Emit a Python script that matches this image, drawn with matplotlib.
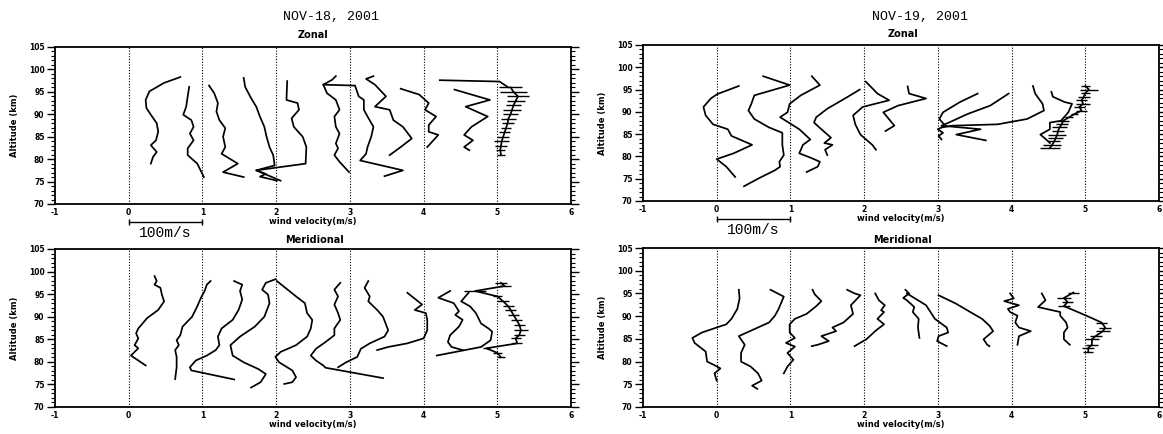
import numpy as np
import matplotlib.pyplot as plt
from matplotlib.ticker import MultipleLocator
import matplotlib.transforms as mtransforms

plt.rcParams['font.family'] = ['DejaVu Sans']
plt.rcParams['font.weight'] = 'bold'

# ---------------- NOV-18 zonal ----------------
z18_alt = [
    [98.3, 97.0, 95.1, 93.2, 91.4, 89.9, 88.0, 86.1, 84.2, 83.1, 81.6, 80.5, 79.0],
    [96.1, 94.0, 91.7, 89.9, 88.7, 87.2, 85.7, 84.2, 82.4, 80.9, 79.0, 76.0],
    [96.4, 94.7, 92.5, 90.6, 88.7, 86.9, 85.0, 82.7, 81.2, 79.0, 77.1, 76.0],
    [98.1, 96.1, 93.6, 91.7, 89.5, 87.2, 85.0, 82.7, 80.9, 78.6, 77.5, 76.7, 76.1, 75.2],
    [97.4, 93.2, 92.5, 91.0, 89.1, 87.2, 85.0, 82.7, 79.0, 77.5, 75.2],
    [98.5, 97.7, 96.6, 94.7, 93.2, 91.0, 89.5, 87.2, 85.7, 83.5, 82.4, 80.9, 79.4, 77.1],
    [96.6, 96.4, 94.0, 93.2, 91.0, 89.5, 87.2, 85.0, 82.7, 81.2, 79.7, 77.5, 76.2],
    [98.5, 97.9, 96.6, 94.0, 91.7, 91.0, 88.7, 87.2, 84.6, 82.7, 80.9],
    [95.7, 94.4, 92.5, 91.0, 89.5, 87.6, 86.1, 85.4, 82.7],
    [95.5, 93.2, 91.7, 89.5, 87.2, 85.4, 84.2, 82.7, 82.0],
    [97.6, 97.3, 96.0],
]
z18_x = [
    [0.70, 0.48, 0.28, 0.23, 0.24, 0.30, 0.38, 0.40, 0.37, 0.30, 0.38, 0.33, 0.30],
    [0.82, 0.80, 0.78, 0.74, 0.85, 0.88, 0.83, 0.88, 0.80, 0.80, 0.93, 1.02],
    [1.09, 1.16, 1.21, 1.19, 1.23, 1.31, 1.28, 1.31, 1.26, 1.48, 1.28, 1.56],
    [1.56, 1.58, 1.66, 1.73, 1.78, 1.84, 1.87, 1.91, 1.96, 1.98, 1.73, 1.86, 1.78, 2.01],
    [2.15, 2.14, 2.29, 2.31, 2.21, 2.24, 2.36, 2.41, 2.40, 1.73, 2.06],
    [2.81, 2.76, 2.64, 2.69, 2.81, 2.86, 2.79, 2.81, 2.86, 2.81, 2.84, 2.79, 2.86, 2.99],
    [2.64, 3.07, 3.12, 3.19, 3.19, 3.24, 3.32, 3.29, 3.24, 3.22, 3.14, 3.72, 3.47],
    [3.32, 3.22, 3.34, 3.49, 3.34, 3.54, 3.59, 3.72, 3.84, 3.69, 3.54],
    [3.69, 3.94, 4.07, 4.02, 4.17, 4.07, 4.07, 4.20, 4.05],
    [4.42, 4.90, 4.57, 4.87, 4.65, 4.55, 4.67, 4.55, 4.62],
    [4.22, 5.03, 5.15],
]
z18_mean_alt = [96.0, 95.0, 94.0, 93.0, 92.0, 91.0, 90.0, 89.0, 88.0, 87.0, 86.0, 85.0, 84.0, 83.0, 82.0, 81.0]
z18_mean_x = [5.18, 5.22, 5.28, 5.25, 5.22, 5.20, 5.18, 5.15, 5.14, 5.12, 5.10, 5.08, 5.06, 5.05, 5.04, 5.05]
z18_mean_err = [0.15, 0.18, 0.15, 0.12, 0.10, 0.12, 0.10, 0.10, 0.08, 0.07, 0.07, 0.08, 0.10, 0.08, 0.06, 0.06]

# ---------------- NOV-19 zonal ----------------
z19_alt = [
    [95.8, 94.0, 93.0, 91.1, 89.2, 87.2, 86.1, 84.6, 82.6, 80.7, 79.4, 77.7, 75.4],
    [98.0, 96.0, 94.9, 93.7, 91.8, 90.3, 88.4, 86.5, 85.3, 82.6, 80.3, 78.8, 77.7, 76.9, 75.0, 73.3],
    [98.0, 96.0, 93.7, 91.8, 89.9, 88.8, 86.1, 83.8, 82.6, 80.7, 79.6, 78.8, 77.7, 76.5],
    [95.0, 93.4, 90.7, 88.8, 87.6, 86.1, 84.2, 83.0, 82.6, 81.5, 80.3],
    [96.8, 95.3, 94.1, 92.6, 91.1, 89.2, 87.2, 84.9, 82.6, 81.5],
    [95.7, 94.1, 93.0, 91.4, 89.9, 86.9, 85.7],
    [94.1, 92.2, 89.9, 88.4, 86.9, 86.1, 85.3, 84.6, 83.8],
    [94.1, 91.4, 89.5, 87.6, 86.9, 86.1, 84.9, 83.6],
    [95.8, 94.1, 91.8, 90.3, 88.4, 87.2, 86.9, 86.5],
    [94.5, 93.4, 92.2, 91.8, 89.9, 88.0, 87.6, 86.1, 84.9, 83.8, 83.0],
]
z19_x = [
    [0.30, 0.01, -0.08, -0.18, -0.15, -0.05, 0.15, 0.20, 0.48, 0.23, 0.00, 0.13, 0.25],
    [0.63, 0.99, 0.76, 0.51, 0.47, 0.43, 0.51, 0.71, 0.89, 0.89, 0.91, 0.85, 0.86, 0.79, 0.56, 0.37],
    [1.29, 1.40, 1.14, 0.99, 0.96, 0.86, 1.12, 1.27, 1.17, 1.12, 1.29, 1.40, 1.37, 1.22],
    [1.94, 1.78, 1.50, 1.35, 1.32, 1.42, 1.55, 1.46, 1.57, 1.47, 1.50],
    [2.02, 2.11, 2.18, 2.34, 1.98, 1.85, 1.88, 1.95, 2.11, 2.16],
    [2.59, 2.61, 2.84, 2.46, 2.26, 2.41, 2.29],
    [3.54, 3.30, 3.07, 3.02, 3.10, 3.00, 3.07, 3.01, 3.05],
    [3.96, 3.71, 3.40, 3.15, 3.05, 3.58, 3.25, 3.65],
    [4.29, 4.32, 4.42, 4.44, 4.21, 3.81, 3.20, 3.05],
    [4.54, 4.56, 4.72, 4.82, 4.77, 4.67, 4.52, 4.52, 4.39, 4.47, 4.52],
]
z19_mean_alt = [95.8, 95.0, 94.2, 93.4, 92.6, 91.8, 91.1, 90.3, 89.5, 88.8, 88.0, 87.2, 86.5, 85.7, 84.9, 84.2, 83.4, 82.6, 81.9]
z19_mean_x = [5.00, 5.05, 5.00, 4.98, 4.95, 4.97, 4.92, 4.95, 4.85, 4.78, 4.70, 4.68, 4.65, 4.63, 4.62, 4.60, 4.58, 4.55, 4.52]
z19_mean_err = [0.06, 0.12, 0.06, 0.08, 0.07, 0.1, 0.07, 0.08, 0.05, 0.06, 0.08, 0.08, 0.1, 0.08, 0.12, 0.1, 0.08, 0.12, 0.14]

# ---------------- NOV-18 meridional ----------------
m18_alt = [
    [99.0, 97.9, 97.1, 96.4, 94.9, 93.4, 91.5, 89.7, 87.4, 86.3, 85.2, 83.7, 83.0, 81.4, 79.2],
    [97.9, 97.1, 95.7, 94.2, 92.3, 90.0, 87.8, 85.9, 84.8, 83.7, 82.6, 81.1, 78.8, 76.2],
    [97.9, 97.1, 95.7, 93.8, 91.5, 89.3, 87.4, 85.6, 83.7, 82.6, 81.4, 80.3, 78.8, 78.1, 76.1],
    [98.3, 97.5, 96.0, 94.9, 93.0, 90.0, 87.8, 85.6, 83.7, 81.4, 79.9, 78.4, 77.3, 75.5, 74.3],
    [97.9, 94.5, 93.0, 90.8, 89.3, 87.4, 85.6, 83.7, 82.2, 81.1, 79.9, 78.1, 76.6, 75.5, 75.1],
    [97.5, 96.0, 94.5, 92.7, 90.8, 89.3, 87.4, 85.9, 84.4, 82.9, 81.4, 80.3, 79.2, 78.7, 76.4],
    [97.9, 96.4, 94.5, 93.4, 91.5, 90.0, 87.0, 85.6, 84.1, 82.9, 81.1, 79.9, 78.8],
    [95.3, 92.7, 91.5, 90.8, 89.3, 87.0, 85.2, 84.1, 83.3, 82.6],
    [95.7, 94.2, 93.0, 91.2, 90.4, 89.3, 87.8, 85.9, 84.4, 83.3, 82.6],
    [95.3, 93.4, 92.3, 90.8, 88.5, 87.4, 86.7, 84.8, 83.3, 81.4],
]
m18_x = [
    [0.35, 0.38, 0.35, 0.43, 0.45, 0.48, 0.40, 0.25, 0.13, 0.10, 0.13, 0.08, 0.13, 0.03, 0.23],
    [1.11, 1.06, 1.03, 0.98, 0.93, 0.86, 0.73, 0.70, 0.65, 0.68, 0.63, 0.65, 0.65, 0.63],
    [1.43, 1.54, 1.51, 1.54, 1.49, 1.41, 1.26, 1.21, 1.23, 1.18, 1.06, 0.91, 0.83, 0.85, 1.43],
    [1.99, 1.86, 1.81, 1.89, 1.91, 1.84, 1.71, 1.51, 1.38, 1.41, 1.56, 1.76, 1.86, 1.79, 1.66],
    [2.01, 2.27, 2.39, 2.42, 2.49, 2.47, 2.42, 2.27, 2.06, 1.99, 2.04, 2.22, 2.27, 2.22, 2.11],
    [2.87, 2.79, 2.84, 2.79, 2.84, 2.87, 2.79, 2.79, 2.67, 2.54, 2.47, 2.54, 2.64, 2.67, 3.45],
    [3.25, 3.20, 3.27, 3.25, 3.37, 3.45, 3.52, 3.47, 3.27, 3.15, 3.10, 2.95, 2.84],
    [3.78, 3.98, 3.88, 4.03, 4.05, 4.05, 4.00, 3.78, 3.52, 3.37],
    [4.36, 4.20, 4.41, 4.48, 4.43, 4.53, 4.48, 4.36, 4.33, 4.38, 4.53],
    [4.61, 4.51, 4.63, 4.71, 4.78, 4.88, 4.93, 4.91, 4.78, 4.18],
]
m18_mean_alt = [97.5, 96.8, 95.7, 94.5, 93.4, 92.3, 91.5, 90.4, 89.3, 88.2, 87.0, 86.0, 85.2, 84.1, 83.0, 82.0, 81.0]
m18_mean_x = [5.05, 5.10, 4.70, 5.00, 5.08, 5.15, 5.18, 5.22, 5.26, 5.30, 5.32, 5.30, 5.25, 5.27, 4.85, 5.00, 5.05]
m18_mean_err = [0.08, 0.08, 0.15, 0.06, 0.08, 0.07, 0.07, 0.07, 0.08, 0.08, 0.09, 0.07, 0.07, 0.07, 0.05, 0.06, 0.06]

# ---------------- NOV-19 meridional ----------------
m19_alt = [
    [95.8, 93.9, 91.6, 89.4, 88.2, 87.5, 86.4, 85.2, 84.1, 82.2, 80.0, 79.2, 78.5, 77.4, 75.8],
    [95.8, 94.3, 91.6, 90.1, 88.6, 85.6, 83.7, 81.9, 80.0, 78.9, 77.4, 75.8, 74.7, 74.0],
    [95.8, 94.8, 93.3, 92.2, 90.5, 89.4, 88.2, 86.4, 85.2, 84.1, 83.3, 81.9, 80.4, 78.9, 77.4],
    [95.8, 95.0, 94.6, 92.4, 90.5, 88.6, 87.5, 86.7, 85.6, 84.5, 83.7, 83.4],
    [95.0, 93.5, 92.4, 91.3, 90.9, 89.4, 88.2, 87.1, 86.7, 84.9, 83.4],
    [95.8, 95.0, 94.0, 93.5, 92.0, 90.9, 89.4, 87.5, 85.2],
    [95.0, 92.4, 89.4, 87.5, 86.4, 85.6, 84.5, 83.4],
    [94.6, 92.8, 90.9, 89.4, 87.9, 86.7, 84.9, 83.7, 83.4],
    [95.0, 93.9, 93.3, 92.4, 91.6, 90.9, 90.1, 88.6, 87.5, 86.7, 85.6, 83.7],
    [95.0, 93.5, 92.0, 90.9, 90.1, 88.6, 87.5, 86.4, 84.9, 83.7],
]
m19_x = [
    [0.30, 0.31, 0.28, 0.20, 0.13, 0.00, -0.20, -0.33, -0.30, -0.15, -0.13, -0.03, 0.05, -0.03, 0.00],
    [0.73, 0.91, 0.84, 0.79, 0.71, 0.30, 0.38, 0.33, 0.33, 0.46, 0.56, 0.61, 0.48, 0.55],
    [1.30, 1.33, 1.42, 1.35, 1.22, 1.06, 0.99, 0.99, 1.06, 0.94, 1.06, 0.96, 1.04, 0.96, 0.91],
    [1.77, 1.87, 1.95, 1.82, 1.85, 1.72, 1.57, 1.62, 1.42, 1.52, 1.37, 1.29],
    [2.15, 2.20, 2.28, 2.23, 2.27, 2.18, 2.27, 2.18, 2.15, 2.03, 1.87],
    [2.56, 2.61, 2.53, 2.58, 2.68, 2.66, 2.74, 2.73, 2.75],
    [2.58, 2.84, 2.96, 3.12, 3.14, 3.01, 2.99, 3.12],
    [3.01, 3.24, 3.44, 3.60, 3.70, 3.75, 3.62, 3.67, 3.70],
    [3.98, 4.03, 3.90, 4.10, 3.95, 3.98, 4.08, 4.05, 4.10, 4.26, 4.10, 4.08],
    [4.41, 4.46, 4.36, 4.66, 4.66, 4.74, 4.76, 4.71, 4.71, 4.79],
]
m19_mean_alt = [95.2, 94.0, 93.1, 92.2, 90.9, 89.7, 88.6, 87.5, 86.7, 85.6, 84.9, 83.7, 83.0, 82.2]
m19_mean_x = [4.84, 4.71, 4.76, 4.71, 4.90, 5.07, 5.22, 5.27, 5.24, 5.14, 5.09, 5.09, 5.04, 5.04]
m19_mean_err = [0.07, 0.1, 0.08, 0.08, 0.0, 0.0, 0.08, 0.08, 0.1, 0.08, 0.1, 0.08, 0.08, 0.07]

grid_x = [0, 1, 2, 3, 4, 5]
xticks = [-1, 0, 1, 2, 3, 4, 5, 6]

W, H = 1163, 434
fig = plt.figure(figsize=(W / 100, H / 100), dpi=100)


def px_axes(left, top, right, bottom):
    return fig.add_axes([left / W, 1 - bottom / H, (right - left) / W, (bottom - top) / H])


def draw_panel(ax, alts, xs, m_alt, m_x, m_err, show_xlabel=True):
    for g in grid_x:
        ax.axvline(g, color='k', ls=(0, (1, 1.5)), lw=0.8)
    for a, x in zip(alts, xs):
        ax.plot(x, a, color='k', lw=1.25)
    ax.errorbar(m_x, m_alt, xerr=m_err, color='k', lw=1.25, elinewidth=1.0, capsize=0)
    ax.set_xlim(-1, 6)
    ax.set_ylim(70, 105)
    ax.set_xticks(xticks)
    ax.set_xticklabels([str(t) for t in xticks])
    ax.yaxis.set_major_locator(MultipleLocator(5))
    ax.yaxis.set_minor_locator(MultipleLocator(1))
    ax.tick_params(axis='x', length=0, labelsize=5.5, pad=3)
    ax.tick_params(axis='y', which='major', length=6, width=1.0, direction='out',
                   right=True, labelsize=5.5, pad=1.5)
    ax.tick_params(axis='y', which='minor', length=3, width=0.8, direction='out', right=True)
    for s in ax.spines.values():
        s.set_linewidth(1.3)
    ax.set_ylabel('Altitude (km)', fontsize=6, fontweight='bold')
    ax.yaxis.set_label_coords(-0.07, 0.5)
    if show_xlabel:
        ax.set_xlabel('wind velocity(m/s)', fontsize=6, fontweight='bold', labelpad=0)


def scale_bar(ax, y_bar, y_txt):
    trans = mtransforms.blended_transform_factory(ax.transData, ax.transAxes)
    ax.plot([0, 1], [y_bar, y_bar], color='k', lw=1.0, transform=trans, clip_on=False,
            marker='|', ms=4, mew=1.0)
    ax.text(0.5, y_txt, '100m/s', transform=trans, ha='center', va='center',
            fontsize=10.5, family='Liberation Mono', fontweight='normal')


ax1 = px_axes(55, 47, 571, 204)
draw_panel(ax1, z18_alt, z18_x, z18_mean_alt, z18_mean_x, z18_mean_err)
scale_bar(ax1, -0.115, -0.185)

ax2 = px_axes(643, 45, 1159, 201)
draw_panel(ax2, z19_alt, z19_x, z19_mean_alt, z19_mean_x, z19_mean_err)
scale_bar(ax2, -0.115, -0.185)

ax3 = px_axes(55, 249, 571, 407)
draw_panel(ax3, m18_alt, m18_x, m18_mean_alt, m18_mean_x, m18_mean_err)

ax4 = px_axes(643, 248, 1159, 407)
draw_panel(ax4, m19_alt, m19_x, m19_mean_alt, m19_mean_x, m19_mean_err)

mono = dict(family='Liberation Mono', fontweight='normal', fontsize=9.5, ha='center', va='center')
fig.text(331 / W, 1 - 17 / H, 'NOV-18, 2001', **mono)
fig.text(920 / W, 1 - 17 / H, 'NOV-19, 2001', **mono)
sub = dict(fontsize=7, fontweight='bold', ha='center', va='center')
fig.text(313 / W, 1 - 35 / H, 'Zonal', **sub)
fig.text(903 / W, 1 - 34 / H, 'Zonal', **sub)
fig.text(314 / W, 1 - 240 / H, 'Meridional', **sub)
fig.text(903 / W, 1 - 240 / H, 'Meridional', **sub)

fig.savefig('out.png', dpi=100)
